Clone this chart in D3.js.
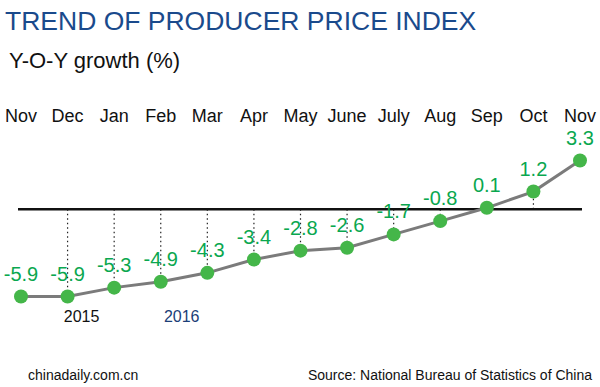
<!DOCTYPE html>
<html>
<head>
<meta charset="utf-8">
<script src="https://cdn.jsdelivr.net/npm/d3@7"></script>
<style>
  body { margin: 0; background: #fff; }
  text { font-family: "Liberation Sans", Arial, sans-serif; }
</style>
</head>
<body>
<script>
// chart data
const months = ["Nov", "Dec", "Jan", "Feb", "Mar", "Apr", "May", "June", "July", "Aug", "Sep", "Oct", "Nov"];
const ppi = [-5.9, -5.9, -5.3, -4.9, -4.3, -3.4, -2.8, -2.6, -1.7, -0.8, 0.1, 1.2, 3.3];
const years = [{ label: "2015", at: 1.3, color: "#111" }, { label: "2016", at: 3.45, color: "#1c3f78" }];

const width = 600, height = 387;
const green = "#44b649", labelGreen = "#0aa74f";

let svg = d3.select("body")
    .append("svg")
    .attr("width", width)
    .attr("height", height);

// scales
let x = d3.scaleLinear()
    .domain([0, months.length - 1])
    .range([21, 580]);

let y = d3.scaleLinear()
    .domain([d3.min(ppi), d3.max(ppi)])
    .range([296.5, 160.5]);

// title + subtitle
svg.append("text")
    .attr("x", 5)
    .attr("y", 30)
    .style("font-size", "26.5px")
    .style("fill", "#1a4a8c")
    .text("TREND OF PRODUCER PRICE INDEX");

svg.append("text")
    .attr("x", 9)
    .attr("y", 68)
    .style("font-size", "22px")
    .style("fill", "#111")
    .text("Y-O-Y growth (%)");

// month labels on top
svg.append("g")
    .selectAll("text")
    .data(months)
    .enter()
    .append("text")
    .attr("x", (d, i) => x(i))
    .attr("y", 122)
    .style("text-anchor", "middle")
    .style("font-size", "18px")
    .style("fill", "#111")
    .text(d => d);

// dotted guides from zero line to each point
svg.append("g")
    .selectAll("line")
    .data(ppi.slice(1, 12))
    .enter()
    .append("line")
    .attr("x1", (d, i) => x(i + 1))
    .attr("x2", (d, i) => x(i + 1))
    .attr("y1", y(0))
    .attr("y2", d => y(d))
    .attr("stroke", "#222")
    .attr("stroke-width", 1.2)
    .attr("stroke-dasharray", "1.5,3");

// zero line
svg.append("line")
    .attr("x1", 18)
    .attr("x2", 582)
    .attr("y1", y(0))
    .attr("y2", y(0))
    .attr("stroke", "#111")
    .attr("stroke-width", 2.5);

// trend line
let line = d3.line()
    .x((d, i) => x(i))
    .y(d => y(d));

svg.append("path")
    .datum(ppi)
    .attr("d", line)
    .attr("fill", "none")
    .attr("stroke", "#7b7b7b")
    .attr("stroke-width", 3);

svg.append("g")
    .selectAll("circle")
    .data(ppi)
    .enter()
    .append("circle")
    .attr("cx", (d, i) => x(i))
    .attr("cy", d => y(d))
    .attr("r", 7)
    .attr("fill", green);

// value labels
svg.append("g")
    .selectAll("text")
    .data(ppi)
    .enter()
    .append("text")
    .attr("x", (d, i) => x(i))
    .attr("y", d => y(d) - 16)
    .style("text-anchor", "middle")
    .style("font-size", "20px")
    .style("fill", labelGreen)
    .text(d => d.toFixed(1));

// year markers
svg.append("g")
    .selectAll("text")
    .data(years)
    .enter()
    .append("text")
    .attr("x", d => x(d.at))
    .attr("y", 322)
    .style("text-anchor", "middle")
    .style("font-size", "16px")
    .style("fill", d => d.color)
    .text(d => d.label);

// footer
svg.append("text")
    .attr("x", 28)
    .attr("y", 380)
    .style("font-size", "14px")
    .style("fill", "#111")
    .text("chinadaily.com.cn");

svg.append("text")
    .attr("x", 592)
    .attr("y", 380)
    .style("text-anchor", "end")
    .style("font-size", "14px")
    .style("fill", "#111")
    .text("Source: National Bureau of Statistics of China");
</script>
</body>
</html>
